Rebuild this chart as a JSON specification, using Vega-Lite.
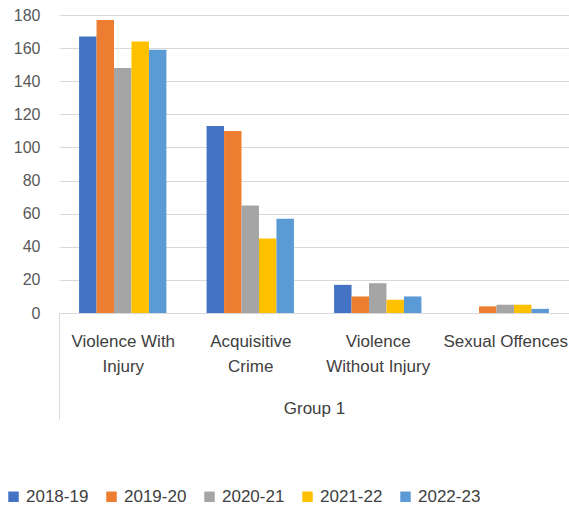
{
  "$schema": "https://vega.github.io/schema/vega-lite/v6.json",
  "width": 510,
  "height": 298,
  "autosize": {"type": "none"},
  "padding": {"left": 59, "top": 15, "right": 0, "bottom": 193},
  "background": "white",
  "config": {"view": {"stroke": null}, "font": "Liberation Sans"},
  "data": {
    "values": [
      {"crime": "Violence With Injury", "year": "2018-19", "value": 167},
      {"crime": "Violence With Injury", "year": "2019-20", "value": 177},
      {"crime": "Violence With Injury", "year": "2020-21", "value": 148},
      {"crime": "Violence With Injury", "year": "2021-22", "value": 164},
      {"crime": "Violence With Injury", "year": "2022-23", "value": 159},
      {"crime": "Acquisitive Crime", "year": "2018-19", "value": 113},
      {"crime": "Acquisitive Crime", "year": "2019-20", "value": 110},
      {"crime": "Acquisitive Crime", "year": "2020-21", "value": 65},
      {"crime": "Acquisitive Crime", "year": "2021-22", "value": 45},
      {"crime": "Acquisitive Crime", "year": "2022-23", "value": 57},
      {"crime": "Violence Without Injury", "year": "2018-19", "value": 17},
      {"crime": "Violence Without Injury", "year": "2019-20", "value": 10},
      {"crime": "Violence Without Injury", "year": "2020-21", "value": 18},
      {"crime": "Violence Without Injury", "year": "2021-22", "value": 8},
      {"crime": "Violence Without Injury", "year": "2022-23", "value": 10},
      {"crime": "Sexual Offences", "year": "2019-20", "value": 4},
      {"crime": "Sexual Offences", "year": "2020-21", "value": 5},
      {"crime": "Sexual Offences", "year": "2021-22", "value": 5},
      {"crime": "Sexual Offences", "year": "2022-23", "value": 2.5}
    ]
  },
  "mark": {"type": "bar"},
  "encoding": {
    "x": {
      "field": "crime",
      "type": "nominal",
      "sort": ["Violence With Injury", "Acquisitive Crime", "Violence Without Injury", "Sexual Offences"],
      "scale": {"paddingInner": 0.315, "paddingOuter": 0.1575},
      "axis": {
        "title": "Group 1",
        "labelAngle": 0,
        "labelExpr": "datum.label == 'Violence With Injury' ? ['Violence With', 'Injury'] : datum.label == 'Acquisitive Crime' ? ['Acquisitive', 'Crime'] : datum.label == 'Violence Without Injury' ? ['Violence', 'Without Injury'] : datum.label",
        "labelFontSize": 17,
        "labelColor": "#404040",
        "labelLineHeight": 25,
        "labelPadding": -86,
        "labelOffset": 63.75,
        "labelLimit": 200,
        "domainColor": "#d9d9d9",
        "tickOffset": -63.75,
        "tickSize": 106,
        "tickColor": {"condition": {"test": "datum.value === 'Violence With Injury'", "value": "#d9d9d9"}, "value": "rgba(0,0,0,0)"},
        "titleFontSize": 17,
        "titleFontWeight": "normal",
        "titleColor": "#404040",
        "titleY": 95,
        "titleBaseline": "middle"
      }
    },
    "xOffset": {"field": "year", "type": "nominal", "scale": {"paddingInner": 0, "paddingOuter": 0}},
    "y": {
      "field": "value",
      "type": "quantitative",
      "scale": {"domain": [0, 180]},
      "axis": {
        "title": null,
        "values": [0, 20, 40, 60, 80, 100, 120, 140, 160, 180],
        "domain": false,
        "ticks": false,
        "gridColor": "#d9d9d9",
        "labelFontSize": 16,
        "labelColor": "#595959",
        "labelPadding": 19
      }
    },
    "color": {
      "field": "year",
      "type": "nominal",
      "scale": {"domain": ["2018-19", "2019-20", "2020-21", "2021-22", "2022-23"], "range": ["#4472C4", "#ED7D31", "#A5A5A5", "#FFC000", "#5B9BD5"]},
      "legend": {
        "title": null,
        "orient": "none",
        "direction": "horizontal",
        "legendX": -54,
        "legendY": 473,
        "symbolType": "square",
        "symbolSize": 110,
        "symbolStrokeWidth": 0,
        "symbolOpacity": 1,
        "labelFontSize": 17,
        "labelColor": "#404040",
        "columnPadding": 14,
        "labelOffset": 4,
        "padding": 0
      }
    }
  }
}
